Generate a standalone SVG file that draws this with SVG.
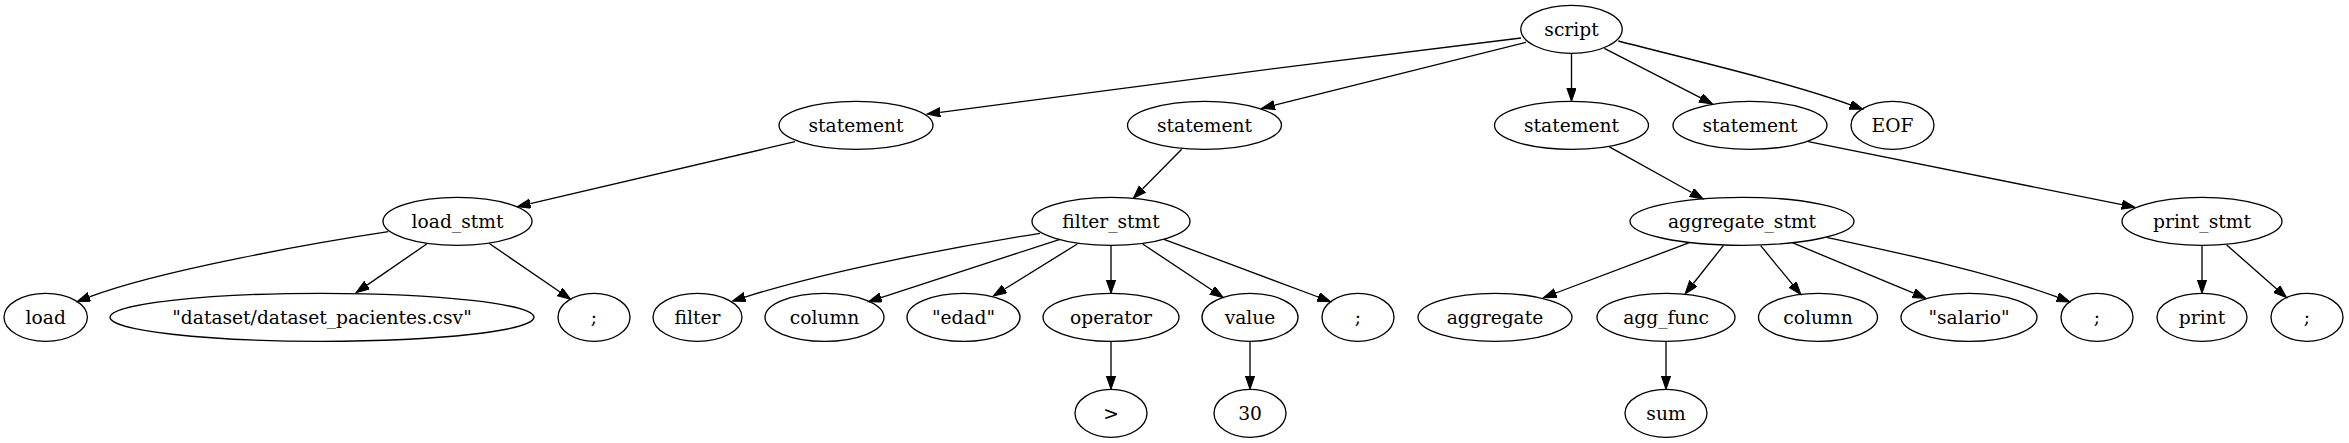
<svg xmlns="http://www.w3.org/2000/svg" width="2349" height="443" viewBox="0 0 2349 443">
<style>
.n ellipse{fill:none;stroke:#000;stroke-width:1.33}
.n text{font-family:"DejaVu Serif","Liberation Serif",serif;font-size:18.67px;text-anchor:middle;fill:#000}
.e path{fill:none;stroke:#000;stroke-width:1.33}
</style>
<defs>
<marker id="ah" markerUnits="userSpaceOnUse" markerWidth="15" markerHeight="11" refX="0" refY="4.67" orient="auto">
<path d="M0,0 L13.33,4.67 L0,9.33 Z" fill="#000" stroke="#000" stroke-width="1"/>
</marker>
</defs>
<rect width="2349" height="443" fill="#fff"/>
<g id="connectors" class="e">
<path marker-end="url(#ah)" d="M1521,38 C1330,61 1120,88 940.2,112.3"/>
<path marker-end="url(#ah)" d="M1526,42.3 L1274.6,105.1"/>
<path marker-end="url(#ah)" d="M1571.5,53.3 L1571.5,88"/>
<path marker-end="url(#ah)" d="M1604.3,48.3 L1700.8,97.9"/>
<path marker-end="url(#ah)" d="M1618.3,41 C1700,62 1790,83 1850.4,104.8"/>
<path marker-end="url(#ah)" d="M795,141.7 L530.3,203.7"/>
<path marker-end="url(#ah)" d="M1181.7,149.3 L1142.7,188.8"/>
<path marker-end="url(#ah)" d="M1609,146.7 L1691.6,192.5"/>
<path marker-end="url(#ah)" d="M1808.3,141.7 L2121.9,204.7"/>
<path marker-end="url(#ah)" d="M388.3,231.7 C320,242 160,270 89.4,296.9"/>
<path marker-end="url(#ah)" d="M426.7,244 L367,285.1"/>
<path marker-end="url(#ah)" d="M489,243.3 L559.7,291.8"/>
<path marker-end="url(#ah)" d="M1040,233.3 C960,246 830,270 745,297.1"/>
<path marker-end="url(#ah)" d="M1060,239.3 L881,297.6"/>
<path marker-end="url(#ah)" d="M1077.3,244 L1004.6,289"/>
<path marker-end="url(#ah)" d="M1111,245.3 L1111,280"/>
<path marker-end="url(#ah)" d="M1142.7,244 L1212.2,290.3"/>
<path marker-end="url(#ah)" d="M1164,239.3 L1318.2,297"/>
<path marker-end="url(#ah)" d="M1111,341.3 L1111,376"/>
<path marker-end="url(#ah)" d="M1250,341.3 L1250,376"/>
<path marker-end="url(#ah)" d="M1689.3,242.7 L1555.8,293"/>
<path marker-end="url(#ah)" d="M1723.3,245.7 L1693.3,283.5"/>
<path marker-end="url(#ah)" d="M1760.7,245.7 L1792.5,284.4"/>
<path marker-end="url(#ah)" d="M1792.3,242.7 L1913.7,293.2"/>
<path marker-end="url(#ah)" d="M1826.7,237.3 C1890,251 1990,272 2057.5,297.2"/>
<path marker-end="url(#ah)" d="M1666,341.3 L1666,376"/>
<path marker-end="url(#ah)" d="M2202,245.3 L2202,280"/>
<path marker-end="url(#ah)" d="M2226.7,245 L2276.7,288.9"/>
</g>
<g id="script" class="n"><ellipse cx="1571.5" cy="29.3" rx="50.7" ry="24"/><text x="1571.5" y="35.8">script</text></g>
<g id="statement_1" class="n"><ellipse cx="856" cy="125.3" rx="77" ry="24"/><text x="856" y="131.8">statement</text></g>
<g id="statement_2" class="n"><ellipse cx="1204.5" cy="125.3" rx="77" ry="24"/><text x="1204.5" y="131.8">statement</text></g>
<g id="statement_3" class="n"><ellipse cx="1571.5" cy="125.3" rx="77" ry="24"/><text x="1571.5" y="131.8">statement</text></g>
<g id="statement_4" class="n"><ellipse cx="1750" cy="125.3" rx="77" ry="24"/><text x="1750" y="131.8">statement</text></g>
<g id="EOF" class="n"><ellipse cx="1892.5" cy="125.3" rx="41.5" ry="24"/><text x="1892.5" y="131.8">EOF</text></g>
<g id="load_stmt" class="n"><ellipse cx="457.5" cy="221.3" rx="74.5" ry="24"/><text x="457.5" y="227.8">load_stmt</text></g>
<g id="filter_stmt" class="n"><ellipse cx="1111" cy="221.3" rx="79" ry="24"/><text x="1111" y="227.8">filter_stmt</text></g>
<g id="aggregate_stmt" class="n"><ellipse cx="1742" cy="221.3" rx="112" ry="24"/><text x="1742" y="227.8">aggregate_stmt</text></g>
<g id="print_stmt" class="n"><ellipse cx="2202" cy="221.3" rx="80" ry="24"/><text x="2202" y="227.8">print_stmt</text></g>
<g id="load" class="n"><ellipse cx="45.7" cy="317.3" rx="41.7" ry="24"/><text x="45.7" y="323.8">load</text></g>
<g id="path_str" class="n"><ellipse cx="322" cy="317.3" rx="212" ry="24"/><text x="322" y="323.8">"dataset/dataset_pacientes.csv"</text></g>
<g id="semi_1" class="n"><ellipse cx="594" cy="317.3" rx="36" ry="24"/><text x="594" y="323.8">;</text></g>
<g id="filter" class="n"><ellipse cx="697.5" cy="317.3" rx="44.5" ry="24"/><text x="697.5" y="323.8">filter</text></g>
<g id="column_1" class="n"><ellipse cx="824.5" cy="317.3" rx="59.5" ry="24"/><text x="824.5" y="323.8">column</text></g>
<g id="edad" class="n"><ellipse cx="963.5" cy="317.3" rx="56.5" ry="24"/><text x="963.5" y="323.8">"edad"</text></g>
<g id="operator" class="n"><ellipse cx="1111" cy="317.3" rx="68" ry="24"/><text x="1111" y="323.8">operator</text></g>
<g id="value" class="n"><ellipse cx="1250" cy="317.3" rx="48" ry="24"/><text x="1250" y="323.8">value</text></g>
<g id="semi_2" class="n"><ellipse cx="1358" cy="317.3" rx="36" ry="24"/><text x="1358" y="323.8">;</text></g>
<g id="aggregate" class="n"><ellipse cx="1495" cy="317.3" rx="77" ry="24"/><text x="1495" y="323.8">aggregate</text></g>
<g id="agg_func" class="n"><ellipse cx="1666" cy="317.3" rx="69" ry="24"/><text x="1666" y="323.8">agg_func</text></g>
<g id="column_2" class="n"><ellipse cx="1818" cy="317.3" rx="59.5" ry="24"/><text x="1818" y="323.8">column</text></g>
<g id="salario" class="n"><ellipse cx="1969" cy="317.3" rx="68" ry="24"/><text x="1969" y="323.8">"salario"</text></g>
<g id="semi_3" class="n"><ellipse cx="2097" cy="317.3" rx="36" ry="24"/><text x="2097" y="323.8">;</text></g>
<g id="print" class="n"><ellipse cx="2202" cy="317.3" rx="45" ry="24"/><text x="2202" y="323.8">print</text></g>
<g id="semi_4" class="n"><ellipse cx="2307" cy="317.3" rx="36" ry="24"/><text x="2307" y="323.8">;</text></g>
<g id="gt" class="n"><ellipse cx="1111" cy="413.3" rx="36" ry="24"/><text x="1111" y="419.8">&gt;</text></g>
<g id="num_30" class="n"><ellipse cx="1250" cy="413.3" rx="36" ry="24"/><text x="1250" y="419.8">30</text></g>
<g id="sum" class="n"><ellipse cx="1666" cy="413.3" rx="41" ry="24"/><text x="1666" y="419.8">sum</text></g>
</svg>
